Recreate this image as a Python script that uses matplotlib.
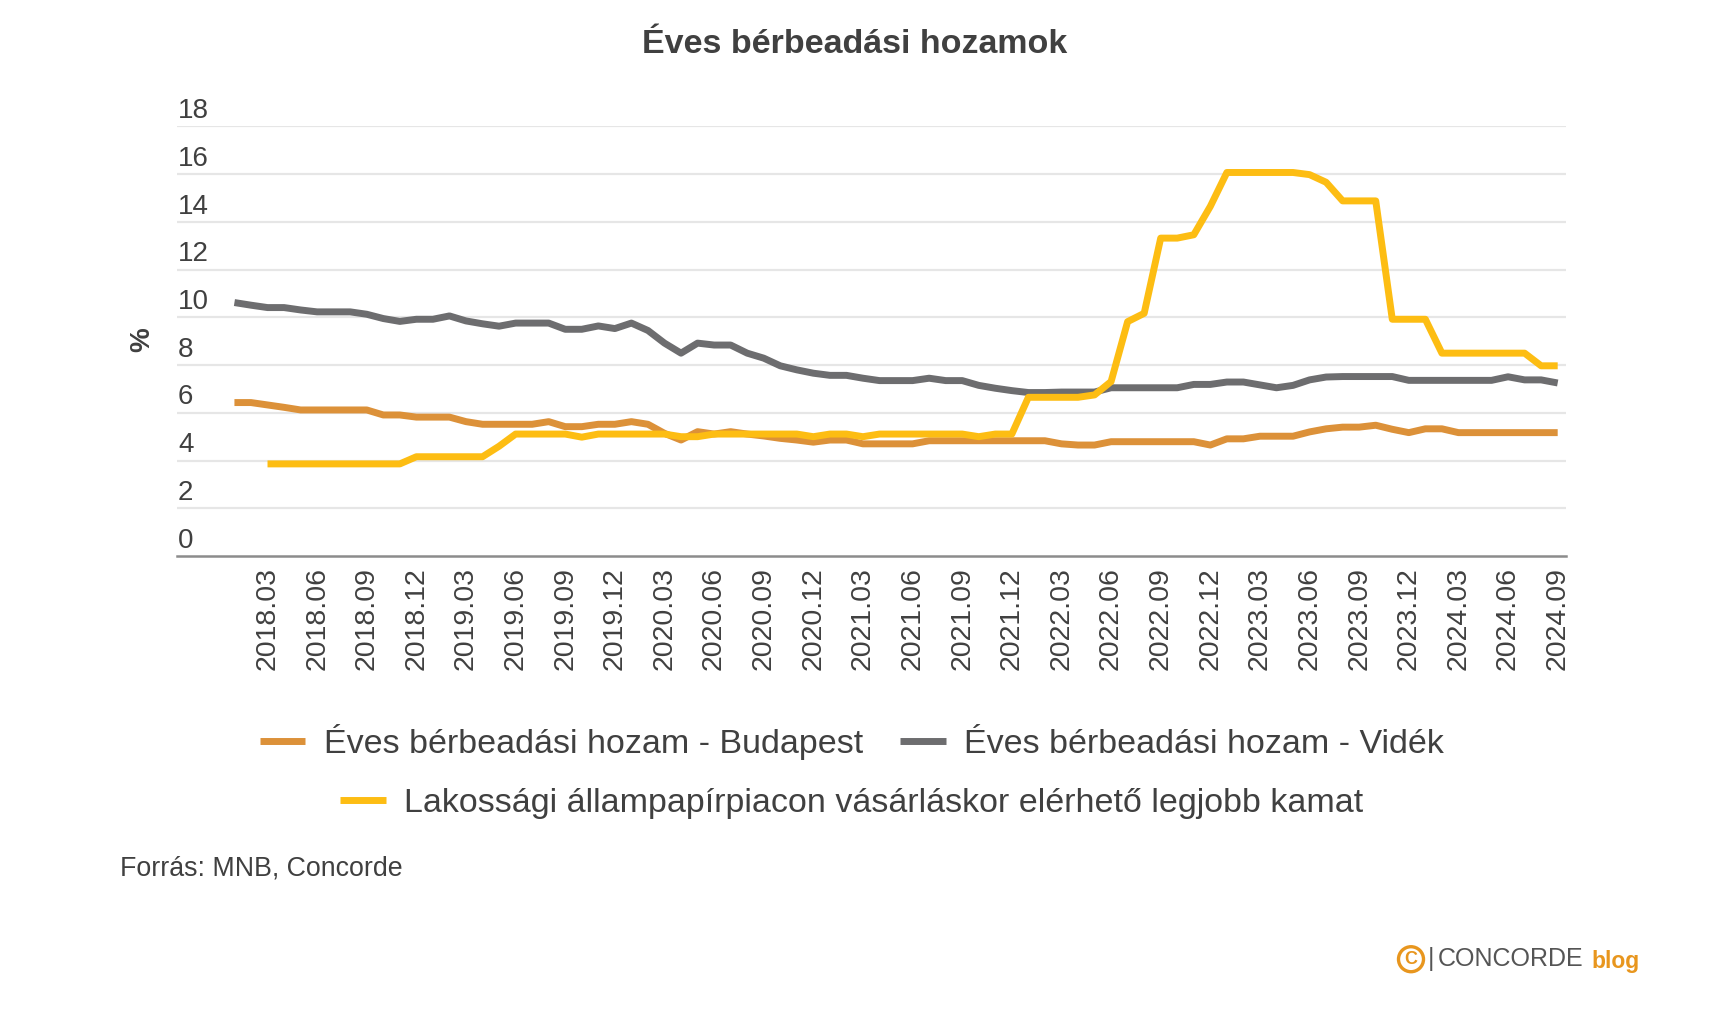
import numpy as np
import matplotlib
matplotlib.use("Agg")
import matplotlib.pyplot as plt
import matplotlib.transforms as mtransforms
from matplotlib.lines import Line2D
from matplotlib.patches import Ellipse

plt.rcParams['font.family'] = ['Liberation Sans', 'DejaVu Sans']

# monthly data, 2018.01 - 2024.09
months = ["%d.%02d" % (y, m) for y in range(2018, 2025) for m in range(1, 13)][:81]

budapest = [6.43, 6.43, 6.33, 6.23, 6.12, 6.12, 6.12, 6.12, 6.12, 5.91,
            5.91, 5.82, 5.82, 5.82, 5.63, 5.52, 5.52, 5.52, 5.52, 5.63,
            5.42, 5.42, 5.52, 5.52, 5.63, 5.52, 5.14, 4.86, 5.21, 5.11,
            5.21, 5.11, 5.03, 4.93, 4.86, 4.77, 4.86, 4.86, 4.70, 4.70,
            4.70, 4.70, 4.83, 4.83, 4.83, 4.83, 4.83, 4.83, 4.83, 4.83,
            4.70, 4.65, 4.65, 4.79, 4.79, 4.79, 4.79, 4.79, 4.79, 4.65,
            4.91, 4.91, 5.02, 5.02, 5.02, 5.20, 5.33, 5.40, 5.40, 5.48,
            5.31, 5.17, 5.33, 5.33, 5.17, 5.17, 5.17, 5.17, 5.17, 5.17,
            5.17]

videk = [10.62, 10.51, 10.41, 10.41, 10.31, 10.23, 10.23, 10.23, 10.13, 9.95,
         9.83, 9.92, 9.92, 10.06, 9.85, 9.73, 9.63, 9.76, 9.76, 9.76,
         9.50, 9.50, 9.64, 9.53, 9.76, 9.45, 8.92, 8.50, 8.92, 8.84,
         8.84, 8.50, 8.29, 7.97, 7.80, 7.66, 7.57, 7.57, 7.45, 7.35,
         7.35, 7.35, 7.45, 7.35, 7.35, 7.15, 7.03, 6.93, 6.85, 6.85,
         6.87, 6.87, 6.87, 7.05, 7.05, 7.05, 7.05, 7.05, 7.19, 7.19,
         7.29, 7.29, 7.17, 7.05, 7.15, 7.38, 7.50, 7.52, 7.52, 7.52,
         7.52, 7.36, 7.36, 7.36, 7.36, 7.36, 7.36, 7.51, 7.38, 7.38,
         7.25]

allampapir = [None, None, 3.86, 3.86, 3.86, 3.86, 3.86, 3.86, 3.86, 3.86,
              3.86, 4.16, 4.16, 4.16, 4.16, 4.16, 4.60, 5.11, 5.11, 5.11,
              5.11, 4.98, 5.11, 5.11, 5.11, 5.11, 5.11, 5.00, 5.00, 5.11,
              5.11, 5.11, 5.11, 5.11, 5.11, 5.00, 5.11, 5.11, 5.00, 5.11,
              5.11, 5.11, 5.11, 5.11, 5.11, 5.00, 5.11, 5.11, 6.65, 6.65,
              6.65, 6.65, 6.75, 7.31, 9.82, 10.17, 13.32, 13.32, 13.46, 14.65,
              16.07, 16.07, 16.07, 16.07, 16.07, 15.98, 15.66, 14.88, 14.88, 14.88,
              9.92, 9.92, 9.92, 8.50, 8.50, 8.50, 8.50, 8.50, 8.50, 7.97,
              7.97]

labels = ["Éves bérbeadási hozam - Budapest",
          "Éves bérbeadási hozam - Vidék",
          "Lakossági állampapírpiacon vásárláskor elérhető legjobb kamat"]

c_bp = '#DC9139'
c_vid = '#6D6D6F'
c_yel = '#FDBD13'
c_txt = '#404040'

x = np.arange(len(months))
y_yel = np.array([np.nan if v is None else v for v in allampapir])

W, H = 1709, 1027
fig = plt.figure(figsize=(W / 100, H / 100), dpi=100)
ax = fig.add_axes([0.1033, 0.4586, 0.8130, 0.4183])

ax.set_ylim(0, 18)
ax.set_xlim(-3.5, 80.5)
ax.set_yticks(np.arange(2, 19, 2))
ax.yaxis.grid(True, color='#e6e6e6', linewidth=1.6)
ax.set_axisbelow(True)
ax.tick_params(axis='y', length=0, labelleft=False)

lw = 5.0
ax.plot(x, budapest, color=c_bp, lw=lw, solid_capstyle='butt', solid_joinstyle='round', zorder=3)
ax.plot(x, videk, color=c_vid, lw=lw, solid_capstyle='butt', solid_joinstyle='round', zorder=3)
ax.plot(x, y_yel, color=c_yel, lw=lw, solid_capstyle='butt', solid_joinstyle='round', zorder=4)

# y labels sit above their gridlines, left aligned
trans = mtransforms.blended_transform_factory(ax.transAxes, ax.transData)
for v in range(0, 19, 2):
    ax.annotate(str(v), xy=(0, v), xycoords=trans, xytext=(1, 6), textcoords='offset points',
                ha='left', va='baseline', fontsize=20, color=c_txt)

tick_idx = x[2::3]
ax.set_xticks(tick_idx)
ax.set_xticklabels([months[i] for i in tick_idx], rotation=90, fontsize=20.5, color=c_txt)
ax.tick_params(axis='x', length=0, pad=8)

for s in ['top', 'right', 'left']:
    ax.spines[s].set_visible(False)
ax.spines['bottom'].set_color('#8c8c8c')
ax.spines['bottom'].set_linewidth(1.8)

fig.text(0.083, 0.669, '%', rotation=90, fontsize=20, fontweight='bold', color=c_txt,
         ha='center', va='center')
fig.text(0.5, 0.957, 'Éves bérbeadási hozamok', fontsize=24.5, fontweight='bold', color=c_txt,
         ha='center', va='center')

h1 = Line2D([], [], color=c_bp, lw=lw, solid_capstyle='butt')
h2 = Line2D([], [], color=c_vid, lw=lw, solid_capstyle='butt')
h3 = Line2D([], [], color=c_yel, lw=lw, solid_capstyle='butt')
leg1 = fig.legend([h1, h2], labels[:2], loc='center', bbox_to_anchor=(0.4985, 0.2775), ncol=2,
                  frameon=False, fontsize=24.5, handlelength=1.34, handletextpad=0.54,
                  columnspacing=1.1, labelcolor=c_txt)
leg2 = fig.legend([h3], labels[2:], loc='center', bbox_to_anchor=(0.4985, 0.218),
                  frameon=False, fontsize=24.5, handlelength=1.34, handletextpad=0.54,
                  labelcolor=c_txt)

fig.text(0.0702, 0.1548, 'Forrás: MNB, Concorde', fontsize=19.3, color=c_txt, ha='left', va='center')

# logo
d = 25
circ = Ellipse((1411 / W, 0.066), d / W, d / H, transform=fig.transFigure, fill=False,
               edgecolor='#E8961E', linewidth=2.4)
fig.patches.append(circ)
fig.text(1411 / W, 0.066, 'C', fontsize=13, fontweight='bold', color='#E8961E', ha='center', va='center')
fig.text(1431 / W, 0.066, '|', fontsize=18, color='#555555', ha='center', va='center')
fig.text(1438 / W, 0.066, 'CONCORDE', fontsize=18, color='#555555', ha='left', va='center')
fig.text(1591 / W, 0.064, 'blog', fontsize=16.5, fontweight='bold', color='#E8961E', ha='left', va='center')

fig.savefig('out.png', dpi=100, facecolor='white')
